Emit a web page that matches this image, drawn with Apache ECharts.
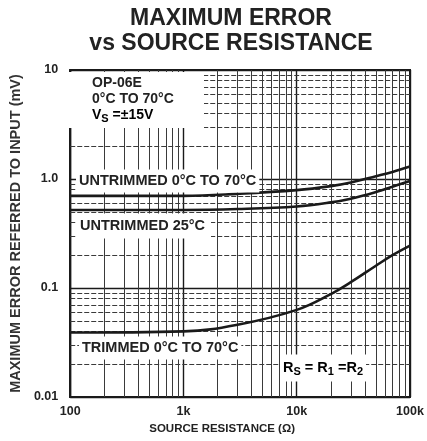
<!DOCTYPE html>
<html><head><meta charset="utf-8">
<script src="https://cdn.jsdelivr.net/npm/echarts@6/dist/echarts.min.js"></script>
<style>html,body{margin:0;padding:0;background:#fff}#c{width:427px;height:441px}</style>
</head><body><div id="c"></div>
<script>
// Source resistance (ohms)
const resistance = [100, 1000, 3000, 10000, 20000, 30000, 50000, 70000, 100000];
// Maximum error referred to input (mV)
const untrimmed0to70 = [0.70, 0.70, 0.73, 0.79, 0.86, 0.93, 1.06, 1.16, 1.30];
const untrimmed25 = [0.52, 0.52, 0.53, 0.56, 0.61, 0.66, 0.76, 0.85, 0.96];
const trimmed0to70 = [0.039, 0.040, 0.046, 0.063, 0.088, 0.113, 0.16, 0.20, 0.245];
// Tick labels by decade exponent
const xTickLabels = {2: '100', 3: '1k', 4: '10k', 5: '100k'};
const yTickLabels = {'-2': '0.01', '-1': '0.1', 0: '1.0', 1: '10'};
// Minor grid values
const xMinorGrid = [200, 300, 400, 500, 600, 700, 800, 900,
  2000, 3000, 4000, 5000, 6000, 7000, 8000, 9000,
  20000, 30000, 40000, 50000, 60000, 70000, 80000, 90000];
const yMinorGrid = [0.02, 0.03, 0.04, 0.05, 0.06, 0.07, 0.08, 0.09,
  0.2, 0.3, 0.4, 0.5, 0.6, 0.7, 0.8, 0.9,
  2, 3, 4, 5, 6, 7, 8, 9];

const pairs = ys => resistance.map((r, i) => [r, ys[i]]);
const FONT = "'Liberation Sans', Arial, sans-serif";
const INK = '#1a1a1a';

const chart = echarts.init(document.getElementById('c'), null, {renderer: 'canvas'});
const curveStyle = {color: INK, width: 2.6};
const gridMarks = [];
xMinorGrid.forEach(v => gridMarks.push({xAxis: v, lineStyle: {color: '#3a3a3a', width: 1, type: 'solid'}}));
yMinorGrid.forEach(v => gridMarks.push({yAxis: v, lineStyle: {color: '#3a3a3a', width: 1, type: [5, 2]}}));

chart.setOption({
  backgroundColor: '#fff',
  animation: false,
  grid: {left: 66, right: 17, top: 70, bottom: 44, show: true, borderColor: INK, borderWidth: 2, backgroundColor: 'transparent'},
  xAxis: {
    type: 'log', logBase: 10, min: 100, max: 100000,
    name: 'SOURCE RESISTANCE (Ω)', nameLocation: 'middle', nameGap: 20,
    nameTextStyle: {fontFamily: FONT, fontWeight: 'bold', fontSize: 11.5, color: '#222', padding: [0, 36, 0, 0]},
    axisLine: {show: true, lineStyle: {color: INK, width: 2}},
    axisTick: {show: false},
    splitLine: {show: true, lineStyle: {color: INK, width: 1.4}},
    axisLabel: {
      margin: 8, fontFamily: FONT, fontWeight: 'bold', fontSize: 12.5, color: '#222',
      formatter: v => xTickLabels[Math.round(Math.log10(v))] || ''
    }
  },
  yAxis: {
    type: 'log', logBase: 10, min: 0.01, max: 10,
    name: 'MAXIMUM ERROR REFERRED TO INPUT (mV)', nameLocation: 'middle', nameGap: 42, nameRotate: 90,
    nameTextStyle: {fontFamily: FONT, fontWeight: 'bold', fontSize: 14.5, color: '#333'},
    axisLine: {show: true, lineStyle: {color: INK, width: 2}},
    axisTick: {show: false},
    splitLine: {show: true, lineStyle: {color: INK, width: 1.4}},
    axisLabel: {
      margin: 12, fontFamily: FONT, fontWeight: 'bold', fontSize: 12.5, color: '#222',
      formatter: v => yTickLabels[Math.round(Math.log10(v))] || ''
    }
  },
  series: [
    {name: 'grid', type: 'line', data: [], silent: true,
     markLine: {silent: true, symbol: 'none', label: {show: false}, animation: false, data: gridMarks}},
    {name: 'UNTRIMMED 0°C TO 70°C', type: 'line', smooth: 0.4, showSymbol: false, lineStyle: curveStyle, data: pairs(untrimmed0to70), z: 5},
    {name: 'UNTRIMMED 25°C', type: 'line', smooth: 0.4, showSymbol: false, lineStyle: curveStyle, data: pairs(untrimmed25), z: 5},
    {name: 'TRIMMED 0°C TO 70°C', type: 'line', smooth: 0.4, showSymbol: false, lineStyle: curveStyle, data: pairs(trimmed0to70), z: 5}
  ],
  graphic: [
    {type: 'text', x: 231, y: 19, z: 10, style: {text: 'MAXIMUM ERROR', font: `bold 23px ${FONT}`, fill: '#222', align: 'center', verticalAlign: 'middle'}},
    {type: 'text', x: 231, y: 44, z: 10, style: {text: 'vs SOURCE RESISTANCE', font: `bold 23px ${FONT}`, fill: '#222', align: 'center', verticalAlign: 'middle'}},
    {type: 'rect', z: 9, shape: {x: 68, y: 72, width: 136, height: 56}, style: {fill: '#fff'}},
    {type: 'text', x: 92, y: 83, z: 10, style: {text: 'OP-06E', font: `bold 14px ${FONT}`, fill: '#222', verticalAlign: 'middle'}},
    {type: 'text', x: 92, y: 99, z: 10, style: {text: '0°C TO 70°C', font: `bold 14px ${FONT}`, fill: '#222', verticalAlign: 'middle'}},
    {type: 'text', x: 92, y: 115, z: 10, style: {text: '{m|V}{s|S}{m| =±15V}', verticalAlign: 'middle',
      rich: {m: {fontFamily: FONT, fontWeight: 'bold', fontSize: 14, color: '#222'}, s: {fontFamily: FONT, fontWeight: 'bold', fontSize: 11, color: '#222', padding: [8, 0, 0, 0]}}}},
    {type: 'text', x: 76, y: 181, z: 10, style: {text: 'UNTRIMMED 0°C TO 70°C', font: `bold 14.5px ${FONT}`, fill: '#222', verticalAlign: 'middle', backgroundColor: '#fff', padding: [4, 3, 4, 3]}},
    {type: 'text', x: 77, y: 226, z: 10, style: {text: 'UNTRIMMED 25°C', font: `bold 14.5px ${FONT}`, fill: '#222', verticalAlign: 'middle', backgroundColor: '#fff', padding: [5, 6, 5, 3]}},
    {type: 'text', x: 79, y: 348, z: 10, style: {text: 'TRIMMED 0°C TO 70°C', font: `bold 14.5px ${FONT}`, fill: '#222', verticalAlign: 'middle', backgroundColor: '#fff', padding: [4, 3, 4, 3]}},
    {type: 'text', x: 280, y: 368, z: 10, style: {text: '{m|R}{s|S}{m| = R}{s|1}{m| =R}{s|2}', verticalAlign: 'middle', backgroundColor: '#fff', padding: [4, 3, 4, 3],
      rich: {m: {fontFamily: FONT, fontWeight: 'bold', fontSize: 14.5, color: '#222'}, s: {fontFamily: FONT, fontWeight: 'bold', fontSize: 11, color: '#222', padding: [8, 0, 0, 0]}}}}
  ]
});
</script></body></html>
